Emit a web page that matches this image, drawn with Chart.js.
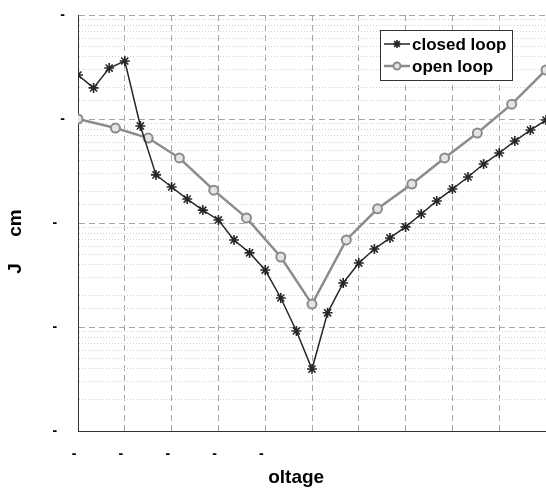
<!DOCTYPE html>
<html>
<head>
<meta charset="utf-8">
<script src="https://cdn.jsdelivr.net/npm/chart.js@4.4.1/dist/chart.umd.min.js"></script>
<style>
	html, body { margin: 0; padding: 0; background: #fff; }
	#graficoCorrente { display: block; }
</style>
</head>
<body>
<canvas id="graficoCorrente" width="546" height="489"></canvas>
<script>
var seriesNames = ['closed loop', 'open loop'];

var closedV = [-1.5, -1.4, -1.3, -1.2, -1.1, -1.0, -0.9, -0.8, -0.7, -0.6, -0.5, -0.4, -0.3, -0.2, -0.1, 0,
	0.1, 0.2, 0.3, 0.4, 0.5, 0.6, 0.7, 0.8, 0.9, 1.0, 1.1, 1.2, 1.3, 1.4, 1.5];
var closedJ = [0.265, 0.199, 0.309, 0.361, 0.0857, 0.0290, 0.0222, 0.0170, 0.0133, 0.0107, 0.00687, 0.00516,
	0.00353, 0.00190, 0.000916, 0.000394, 0.00137, 0.00265, 0.00412, 0.00562, 0.00718, 0.00917, 0.0122,
	0.0163, 0.0212, 0.0277, 0.0369, 0.0471, 0.0614, 0.0783, 0.0977];

var openV = [-1.5, -1.26, -1.05, -0.85, -0.63, -0.42, -0.2, 0, 0.22, 0.42, 0.64, 0.85, 1.06, 1.28, 1.5];
var openJ = [0.1, 0.0818, 0.0656, 0.0422, 0.0207, 0.0112, 0.00471, 0.00166, 0.00687, 0.0137, 0.0237,
	0.0422, 0.0733, 0.139, 0.296];

var voltTicks = [-1.5, -1.2, -0.9, -0.6, -0.3, 0, 0.3, 0.6, 0.9, 1.2, 1.5];
var voltLabels = ['-  ', '-  ', '-  ', '-  ', '-  ', '', '', '', '', '', ''];
var decadeTicks = [1e-4, 1e-3, 1e-2, 1e-1, 1];
var decadeLabels = ['-  ', '-  ', '-  ', '-', '-'];

function pares(xs, ys) {
	return xs.map(function(x, i) { return {x: x, y: ys[i]}; });
}

function indiceDecada(valor) {
	for (var i = 0; i < decadeTicks.length; i++) {
		if (Math.abs(Math.log10(valor) - Math.log10(decadeTicks[i])) < 1e-6) return i;
	}
	return -1;
}

function ehDecada(ctx) {
	return ctx.tick ? indiceDecada(ctx.tick.value) >= 0 : true;
}

// tamanho fixo dos eixos, sem o recuo que o chart.js poe por causa dos rotulos
function fixarEixo(largura, altura) {
	return function(scale) {
		if (largura) scale.width = largura;
		if (altura) scale.height = altura;
		scale.paddingLeft = 0;
		scale.paddingRight = 0;
		scale.paddingTop = 0;
		scale.paddingBottom = 0;
	};
}

// legenda desenhada no estilo do matlab: linha + marcador dentro de uma caixa
var legendaQuadro = {
	id: 'legendaQuadro',
	afterDraw: function(chart) {
		var ctx = chart.ctx;
		var area = chart.chartArea;
		var bx = area.right - 166, by = area.top + 15, bw = 132, bh = 50;
		ctx.save();
		ctx.fillStyle = '#fff';
		ctx.fillRect(bx, by, bw, bh);
		ctx.strokeStyle = '#333';
		ctx.lineWidth = 1;
		ctx.strokeRect(bx + 0.5, by + 0.5, bw, bh);
		chart.data.datasets.forEach(function(ds, i) {
			var y = by + 14 + i * 22;
			ctx.strokeStyle = ds.borderColor;
			ctx.lineWidth = ds.borderWidth;
			ctx.beginPath();
			ctx.moveTo(bx + 4, y);
			ctx.lineTo(bx + 30, y);
			ctx.stroke();
			ctx.fillStyle = ds.pointBackgroundColor;
			ctx.strokeStyle = ds.pointBorderColor;
			ctx.lineWidth = ds.pointBorderWidth;
			Chart.helpers.drawPoint(ctx, {
				pointStyle: ds.pointStyle,
				radius: ds.pointRadius - 1,
				rotation: 0,
				borderWidth: ds.pointBorderWidth
			}, bx + 17, y);
			ctx.fillStyle = '#000';
			ctx.font = 'bold 17px "Liberation Sans", Arial, sans-serif';
			ctx.textBaseline = 'middle';
			ctx.fillText(ds.label, bx + 32, y + 1);
		});
		ctx.restore();
	}
};

Chart.defaults.font.family = '"Liberation Sans", Arial, sans-serif';
Chart.defaults.color = '#000';

var grafico = new Chart(document.getElementById('graficoCorrente').getContext('2d'), {
	type: 'line',
	data: {
		datasets: [{
			label: seriesNames[0],
			data: pares(closedV, closedJ),
			borderColor: '#272727',
			borderWidth: 1.5,
			pointStyle: 'star',
			pointRadius: 5,
			pointBorderWidth: 1.6,
			pointBorderColor: '#272727',
			pointBackgroundColor: '#272727'
		}, {
			label: seriesNames[1],
			data: pares(openV, openJ),
			borderColor: '#8c8c8c',
			borderWidth: 2.5,
			pointStyle: 'circle',
			pointRadius: 4.5,
			pointBorderWidth: 2,
			pointBorderColor: '#8c8c8c',
			pointBackgroundColor: '#e4e4e4'
		}]
	},
	options: {
		responsive: false,
		animation: false,
		layout: { autoPadding: false, padding: { top: 15, right: 0, left: 0, bottom: 0 } },
		plugins: {
			legend: { display: false },
			tooltip: { enabled: false }
		},
		scales: {
			x: {
				type: 'linear',
				min: -1.5,
				max: 1.5,
				afterBuildTicks: function(scale) {
					scale.ticks = voltTicks.map(function(v) { return {value: v}; });
				},
				afterFit: fixarEixo(0, 58),
				ticks: {
					autoSkip: false,
					maxRotation: 0,
					padding: 15,
					font: { size: 14, weight: 'bold' },
					callback: function(value, index) { return voltLabels[index]; }
				},
				grid: { color: '#a6a6a6', lineWidth: 1, drawTicks: false },
				border: { display: true, color: '#333', width: 1, dash: [6, 4] },
				title: {
					display: true,
					text: 'oltage      ',
					font: { size: 19, weight: 'bold' },
					padding: { top: 0, bottom: 0 }
				}
			},
			y: {
				type: 'logarithmic',
				min: 1e-4,
				max: 1,
				afterFit: fixarEixo(78, 0),
				ticks: {
					autoSkip: false,
					padding: 13,
					font: { size: 14, weight: 'bold' },
					callback: function(value) {
						var i = indiceDecada(value);
						return i >= 0 ? decadeLabels[i] : '';
					}
				},
				grid: {
					drawTicks: false,
					lineWidth: 1,
					color: function(ctx) { return ehDecada(ctx) ? '#a6a6a6' : '#d2d2d2'; }
				},
				border: {
					display: true,
					color: '#333',
					width: 1,
					dash: function(ctx) { return ehDecada(ctx) ? [6, 4] : [1, 2]; }
				},
				title: {
					display: true,
					text: 'J     cm       ',
					font: { size: 19, weight: 'bold' },
					padding: { top: 4, bottom: 0 }
				}
			}
		}
	},
	plugins: [legendaQuadro]
});
</script>
</body>
</html>
